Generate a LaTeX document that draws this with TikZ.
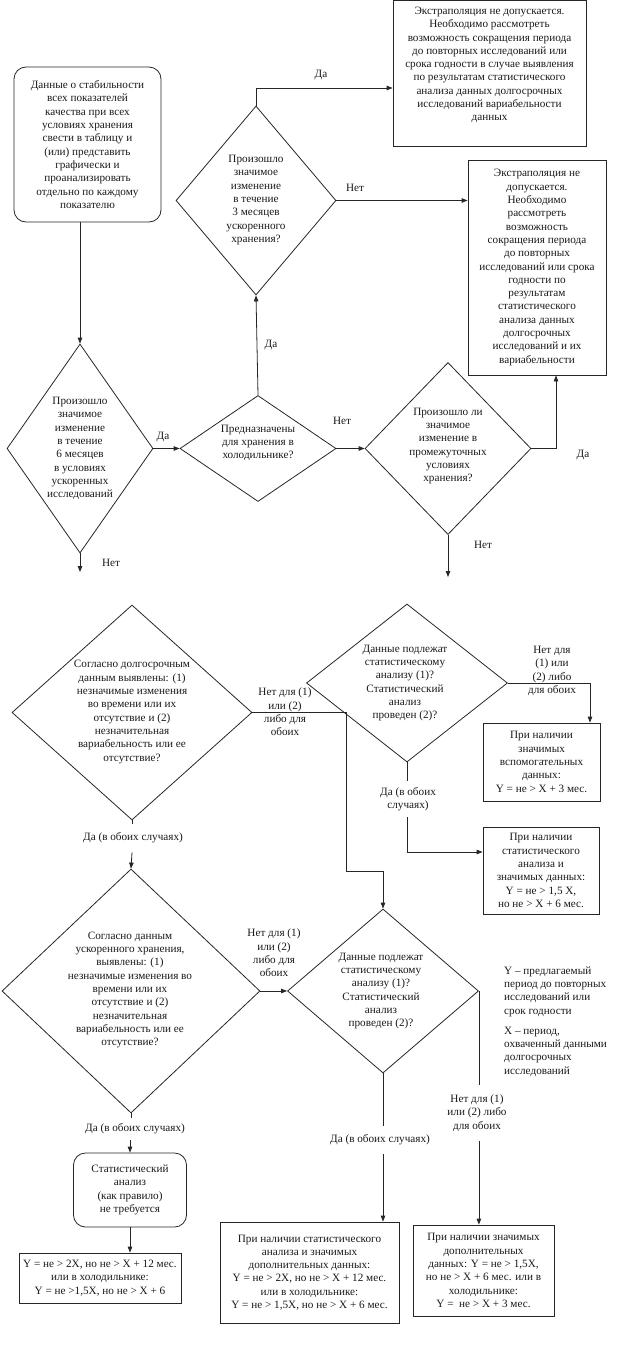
\documentclass[tikz,border=0pt]{standalone}
\usepackage{fontspec}
\setmainfont{Liberation Serif}
\usetikzlibrary{shapes.geometric,arrows.meta,calc}
\begin{document}
\begin{tikzpicture}[x=1pt,y=-1pt,
  ink/.style={draw=black!85, line width=0.8pt},
  ln/.style={ink},
  arr/.style={ink, -{Triangle[length=6pt,width=4.5pt]}},
  txt/.style={font=\fontsize{11.2}{13.3}\selectfont, align=center, inner sep=0pt, text=black!90},
  dia/.style={ink, shape=diamond, inner sep=0pt},
  box/.style={ink, rectangle, inner sep=0pt, font=\fontsize{11.2}{13.3}\selectfont, align=center, text=black!90},
  rbox/.style={box, rounded corners=12pt},
  lab/.style={txt, inner ysep=6pt, inner xsep=2pt}
]
\useasboundingbox (0,0) rectangle (637,1349);

% ---------- top part ----------
\node[rbox, minimum width=147pt, minimum height=155pt] (start) at (87.5,144.5)
  {Данные о стабильности\\всех показателей\\качества при всех\\условиях хранения\\свести в таблицу и\\(или) представить\\графически и\\проанализировать\\отдельно по каждому\\показателю};

\node[dia, minimum width=160pt, minimum height=189pt] (d3) at (256,200.5) {};
\node[txt] (d3t) at (256,200) {Произошло\\значимое\\изменение\\в течение\\3 месяцев\\ускоренного\\хранения?};

\node[box, minimum width=193pt, minimum height=146pt] (A) at (489.5,73) {};
\node[txt] (At) at (489.5,65) {Экстраполяция не допускается.\\Необходимо рассмотреть\\возможность сокращения периода\\до повторных исследований или\\срока годности в случае выявления\\по результатам статистического\\анализа данных долгосрочных\\исследований вариабельности\\данных};

\node[box, minimum width=138pt, minimum height=215pt] (B) at (537,267.5)
  {Экстраполяция не\\допускается.\\Необходимо\\рассмотреть\\возможность\\сокращения периода\\до повторных\\исследований или срока\\годности по\\результатам\\статистического\\анализа данных\\долгосрочных\\исследований и их\\вариабельности};

\node[dia, minimum width=146pt, minimum height=209pt] (d1) at (80,448.5) {};
\node[txt] (d1t) at (80,448.5) {Произошло\\значимое\\изменение\\в течение\\6 месяцев\\в условиях\\ускоренных\\исследований};

\node[dia, minimum width=156pt, minimum height=106pt] (d2) at (258,448.5) {};
\node[txt] (d2t) at (258,443) {Предназначены\\для хранения в\\холодильнике?};

\node[dia, minimum width=166pt, minimum height=172pt] (d4) at (448,448.5) {};
\node[txt] (d4t) at (448,446) {Произошло ли\\значимое\\изменение в\\промежуточных\\условиях\\хранения?};

\coordinate (d1end) at (80,572);
\coordinate (d4end) at (448,577);

\draw[arr] (start.south -| d1.north) -- (d1.north);
\draw[arr] (d1.east) -- (d2.west);
\node[txt] (l1) at (163,437) {Да};
\draw[arr] (d1.south) -- (d1end);
\node[txt] (l2) at (111,563) {Нет};
\draw[arr] (d2.north) -- (d3.south);
\node[txt] (l3) at (271,345) {Да};
\draw[arr] (d3.north) |- ($(A.west)+(0,15)$);
\node[txt] (l4) at (321,75) {Да};
\draw[arr] (d3.east) -- (d3.east -| B.west);
\node[txt] (l5) at (355,188) {Нет};
\draw[arr] (d2.east) -- (d4.west);
\node[txt] (l6) at (342,421) {Нет};
\draw[arr] (d4.east) -| ($(B.south)+(19,0)$);
\node[txt] (l7) at (583,455) {Да};
\draw[arr] (d4.south) -- (d4end);
\node[txt] (l8) at (483,545) {Нет};

% ---------- middle part ----------
\node[dia, minimum width=240pt, minimum height=215pt] (d5) at (132,712.5) {};
\node[txt] (d5t) at (132,712) {Согласно долгосрочным\\данным выявлены: (1)\\незначимые изменения\\во времени или их\\отсутствие и (2)\\незначительная\\вариабельность или ее\\отсутствие?};

\node[dia, minimum width=201pt, minimum height=158pt] (d7) at (407,683) {};
\node[txt] (d7t) at (405,683) {Данные подлежат\\статистическому\\анализу (1)?\\Статистический\\анализ\\проведен (2)?};

\node[box, minimum width=117pt, minimum height=78pt] (C) at (541.5,762)
  {При наличии\\значимых\\вспомогательных\\данных:\\Y = не > X + 3 мес.};
\node[box, minimum width=116pt, minimum height=87pt] (D) at (541,870.5)
  {При наличии\\статистического\\анализа и\\значимых данных:\\Y = не > 1,5 X,\\но не > X + 6 мес.};

\draw[arr] (d7.east) -| ($(C.north)+(48.5,0)$);
\node[txt] (l10) at (552,671) {Нет для\\(1) или\\(2) либо\\для обоих};

\node[lab] (L7) at (408,799) {Да (в обоих\\случаях)};
\draw[ln] (d7.south) -- (d7.south |- L7.north);
\draw[arr] (d7.south |- L7.south) |- ($(D.west)+(0,-18.5)$);

\node[lab, inner ysep=9pt] (L5) at (133,838) {Да (в обоих случаях)};

% ---------- lower part ----------
\node[dia, minimum width=258pt, minimum height=244pt] (d6) at (131,991) {};
\node[txt] (d6t) at (130,990) {Согласно данным\\ускоренного хранения,\\выявлены: (1)\\незначимые изменения во\\времени или их\\отсутствие и (2)\\незначительная\\вариабельность или ее\\отсутствие?};

\node[dia, minimum width=191pt, minimum height=164pt] (d8) at (383,991) {};
\node[txt] (d8t) at (381,991) {Данные подлежат\\статистическому\\анализу (1)?\\Статистический\\анализ\\проведен (2)?};

\coordinate (j1) at (346,712.5);
\coordinate (j2) at (346,871);
\draw[arr] (d5.east) -- (j1) -- (j2) -| (d8.north);
\node[txt] (l9) at (285,712) {Нет для (1)\\или (2)\\либо для\\обоих};

\draw[ln] (d5.south) -- (d5.south |- L5.north);
\draw[arr] (d5.south |- L5.south) -- (d6.north);

\draw[arr] (d6.east) -- (d8.west);
\node[txt] (l11) at (274,953) {Нет для (1)\\или (2)\\либо для\\обоих};

\node[txt, align=left, anchor=west] (legY) at (504,991.5) {Y -- предлагаемый\\период до повторных\\исследований или\\срок годности};
\node[txt, align=left, anchor=west] (legX) at (504,1051.5) {X -- период,\\охваченный данными\\долгосрочных\\исследований};

\node[rbox, minimum width=113pt, minimum height=74pt] (E) at (130,1190)
  {Статистический\\анализ\\(как правило)\\не требуется};
\node[box, minimum width=162pt, minimum height=50pt] (H) at (100,1278)
  {Y = не > 2X, но не > X + 12 мес.\\или в холодильнике:\\Y = не >1,5X, но не > X + 6};
\node[box, minimum width=179pt, minimum height=101pt] (F) at (309.5,1272.5)
  {При наличии статистического\\анализа и значимых\\дополнительных данных:\\Y = не > 2X, но не > X + 12 мес.\\или в холодильнике:\\Y = не > 1,5X, но не > X + 6 мес.};
\node[box, minimum width=141pt, minimum height=91pt] (G) at (483.5,1270.5)
  {При наличии значимых\\дополнительных\\данных: Y = не > 1,5X,\\но не > X + 6 мес. или в\\холодильнике:\\Y =\ \ не > X + 3 мес.};

\node[lab] (L6) at (135,1129) {Да (в обоих случаях)};
\draw[ln] (d6.south) -- (d6.south |- L6.north);
\draw[arr] (L6.south -| E.north) -- (E.north);
\draw[arr] (E.south) -- (E.south |- H.north);

\node[lab, inner ysep=9pt] (L8) at (380,1140) {Да (в обоих случаях)};
\draw[ln] (d8.south) -- (d8.south |- L8.north);
\draw[arr] (d8.south |- L8.south) -- (d8.south |- F.north);

\node[lab, inner ysep=10pt] (L8b) at (477,1113) {Нет для (1)\\или (2) либо\\для обоих};
\draw[ln] (d8.east) -- (d8.east |- L8b.north);
\draw[arr] (d8.east |- L8b.south) -- (d8.east |- G.north);
\end{tikzpicture}
\end{document}
